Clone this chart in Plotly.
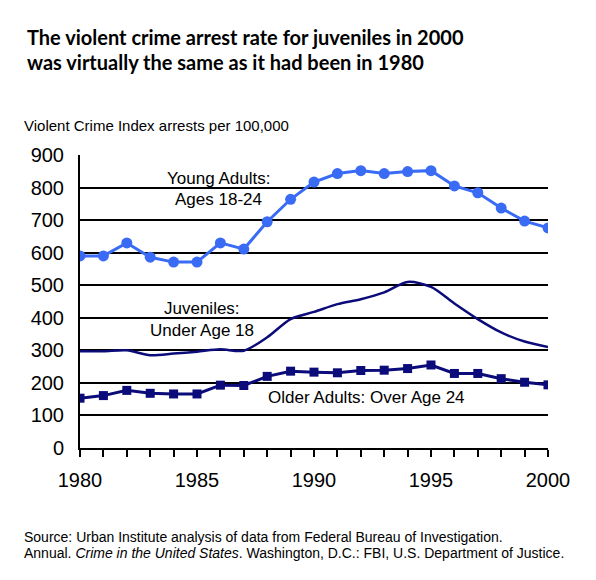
import plotly.graph_objects as go

# Datos
years = list(range(1980, 2001))
young_adults = [590, 590, 630, 586, 571, 571, 630, 611, 695, 764, 817,
                843, 852, 843, 849, 852, 805, 784, 737, 697, 676]
juveniles = [297, 297, 300, 285, 290, 296, 303, 299, 340, 396, 418,
             442, 457, 478, 510, 495, 444, 396, 355, 327, 310]
older_adults = [153, 161, 177, 168, 166, 166, 193, 192, 220, 236, 233,
                231, 238, 239, 244, 255, 229, 229, 213, 202, 194]

y_ticks = [0, 100, 200, 300, 400, 500, 600, 700, 800, 900]
x_ticks = [1980, 1985, 1990, 1995, 2000]

blue = "#3A6BF5"
navy = "#0B0B7A"
arial = "Liberation Sans, Arial"

fig = go.Figure()
fig.add_trace(go.Scatter(x=years, y=young_adults, mode="lines+markers",
                         line=dict(color=blue, width=3),
                         marker=dict(symbol="circle", size=11, color=blue)))
fig.add_trace(go.Scatter(x=years, y=juveniles, mode="lines",
                         line=dict(color=navy, width=2.5, shape="spline", smoothing=0.8)))
fig.add_trace(go.Scatter(x=years, y=older_adults, mode="lines+markers",
                         line=dict(color=navy, width=3),
                         marker=dict(symbol="square", size=9, color=navy)))

# Etiquetas de las series (una anotación por línea)
label_font = dict(family=arial, size=17, color="black")
for x, y, txt in [(1985.92, 828, "Young Adults:"), (1985.9, 762, "Ages 18-24"),
                  (1985.2, 427, "Juveniles:"), (1985.2, 362, "Under Age 18"),
                  (1992.25, 154, "Older Adults: Over Age 24")]:
    fig.add_annotation(x=x, y=y, text=txt, showarrow=False, font=label_font,
                       xanchor="center", yanchor="middle")

fig.update_layout(
    width=596, height=580,
    margin=dict(l=72, r=56, t=147, b=140),
    paper_bgcolor="white", plot_bgcolor="white",
    showlegend=False,
    xaxis=dict(
        range=[1980, 2000], tickvals=x_ticks, showgrid=False, zeroline=False,
        showline=True, linecolor="black", linewidth=2,
        ticks="outside", ticklen=7, tickwidth=1.5, tickcolor="black",
        minor=dict(dtick=1, ticks="outside", ticklen=7, tickwidth=1.5, tickcolor="black"),
        ticklabelstandoff=6,
        tickfont=dict(family=arial, size=20, color="black"),
    ),
    yaxis=dict(
        range=[0, 900], tickvals=y_ticks, showgrid=True, gridcolor="black", gridwidth=1.5,
        zeroline=False, showline=True, linecolor="black", linewidth=2,
        ticks="", ticklabelstandoff=10,
        tickfont=dict(family=arial, size=20, color="black"),
    ),
)

# Título en dos líneas
title_font = dict(family="Lato, Liberation Sans", size=20, color="black")
for y, txt in [(37, "The violent crime arrest rate for juveniles in 2000"),
               (62, "was virtually the same as it had been in 1980")]:
    fig.add_annotation(xref="paper", yref="paper", x=(25 - 80) / 468,
                       y=(448 - y) / 293, xanchor="left", yanchor="middle",
                       showarrow=False, text="<b>" + txt + "</b>", font=title_font)

fig.add_annotation(xref="paper", yref="paper", x=(22 - 80) / 468, y=(448 - 125) / 293,
                   xanchor="left", yanchor="middle", showarrow=False,
                   text="Violent Crime Index arrests per 100,000",
                   font=dict(family=arial, size=15, color="black"))

source_font = dict(family=arial, size=14, color="black")
for y, txt in [(537, "Source: Urban Institute analysis of data from Federal Bureau of Investigation."),
               (553, "Annual. <i>Crime in the United States</i>. Washington, D.C.: FBI, U.S. Department of Justice.")]:
    fig.add_annotation(xref="paper", yref="paper", x=(22 - 80) / 468,
                       y=(448 - y) / 293, xanchor="left", yanchor="middle",
                       showarrow=False, text=txt, font=source_font)

fig.write_html("out.html")
